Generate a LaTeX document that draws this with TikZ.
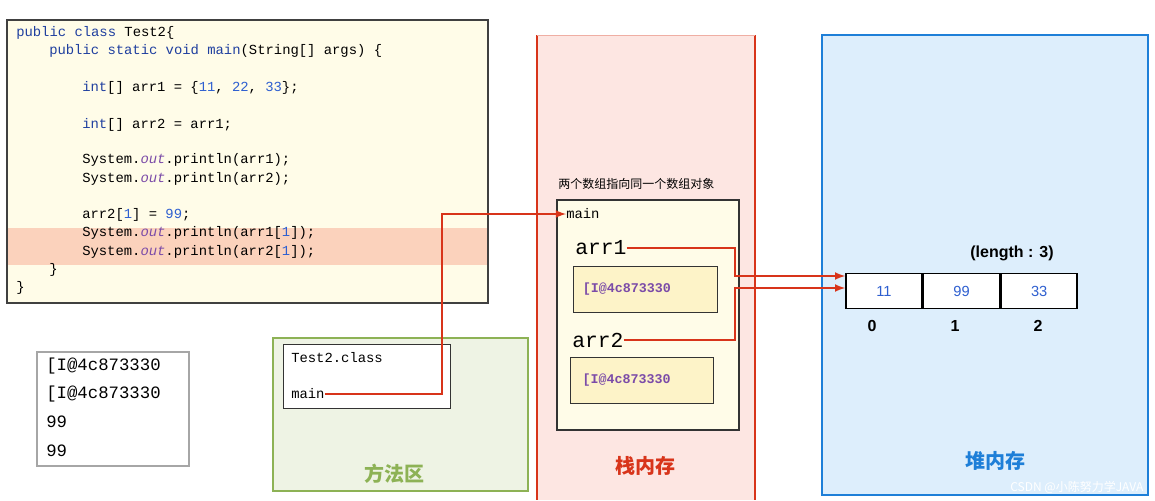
\documentclass[tikz,border=0pt]{standalone}
\usepackage{fontspec}
\setmainfont{Liberation Sans}
\setmonofont{Liberation Mono}
\newfontfamily\cjk{Noto Sans CJK SC}
\usetikzlibrary{positioning}
\definecolor{codebg}{HTML}{FFFCE8}
\definecolor{hilite}{HTML}{FBD2BC}
\definecolor{kw}{HTML}{1F3F9F}
\definecolor{num}{HTML}{2E5FD0}
\definecolor{outc}{HTML}{7B4BA8}
\definecolor{redl}{HTML}{D8341A}
\definecolor{stackbg}{HTML}{FDE6E2}
\definecolor{greenl}{HTML}{8DB255}
\definecolor{methbg}{HTML}{EEF3E4}
\definecolor{bluel}{HTML}{1E7FD8}
\definecolor{heapbg}{HTML}{DDEEFC}
\definecolor{addrbg}{HTML}{FDF3C8}
\tikzset{
  code/.style={anchor=west,inner sep=0pt,font=\ttfamily\fontsize{10.4}{12}\selectfont},
  addr/.style={draw=black!80,fill=addrbg,thick,minimum width=#1,minimum height=34.5,
    align=left,text width=#1-14,inner xsep=7pt,
    font=\ttfamily\bfseries\fontsize{10}{12}\selectfont,text=outc},
  var/.style={anchor=west,inner sep=0pt,font=\ttfamily\fontsize{16}{18}\selectfont},
  cell/.style={draw,very thick,fill=white,minimum width=57,minimum height=26,inner sep=0pt,
    text=num,font=\fontsize{11}{13}\selectfont},
  idx/.style={font=\bfseries\fontsize{12}{14}\selectfont},
  area/.style={font=\cjk\bfseries\fontsize{15}{18}\selectfont},
  ptr/.style={redl,line width=1.6pt,-latex},
  outl/.style={anchor=west,inner sep=0pt,font=\ttfamily\fontsize{13}{15}\selectfont}
}
\begin{document}
\begin{tikzpicture}[x=0.75pt,y=-0.75pt]
\useasboundingbox (0,0) rectangle (1155,500);
% code
\fill[codebg] (7,20) rectangle (488,303);
\fill[hilite] (7,228) rectangle (488,265);
\draw[black!75,thick] (7,20) rectangle (488,303);
\node[code] (l1) at (16,33) {\textcolor{kw}{public class} Test2\{};
\node[code] (l2) at (49,51) {\textcolor{kw}{public static void main}(String[] args) \{};
\node[code] (l3) at (82,88) {\textcolor{kw}{int}[] arr1 = \{\textcolor{num}{11}, \textcolor{num}{22}, \textcolor{num}{33}\};};
\node[code] (l4) at (82,125) {\textcolor{kw}{int}[] arr2 = arr1;};
\node[code] (l5) at (82,160) {System.\textcolor{outc}{\itshape out}.println(arr1);};
\node[code] (l6) at (82,179) {System.\textcolor{outc}{\itshape out}.println(arr2);};
\node[code] (l7) at (82,215) {arr2[\textcolor{num}{1}] = \textcolor{num}{99};};
\node[code] (l8) at (82,233) {System.\textcolor{outc}{\itshape out}.println(arr1[\textcolor{num}{1}]);};
\node[code] (l9) at (82,252) {System.\textcolor{outc}{\itshape out}.println(arr2[\textcolor{num}{1}]);};
\node[code] (l10) at (49,270) {\}};
\node[code] (l11) at (16,288) {\}};
% console output
\draw[black!35,line width=1.5pt,fill=white] (37,352) rectangle (189,466);
\node[outl] (o1) at (46,366) {[I@4c873330};
\node[outl] (o2) at (46,394) {[I@4c873330};
\node[outl] (o3) at (46,422) {99};
\node[outl] (o4) at (46,451) {99};
% method area
\draw[greenl,line width=2.2pt,fill=methbg] (273,338) rectangle (528,491);
\node[area,text=greenl] (meth) at (394,474) {方法区};
\draw[black!80,fill=white] (283,344) rectangle (450,408);
\node[code] (cls) at (291,358) {Test2.class};
\node[code] (mmain) at (291,394) {main};
% stack
\fill[stackbg] (537,35) rectangle (755,500);
\draw[redl,line width=2.2pt] (537,35) -- (537,500) (755,35) -- (755,500);
\draw[redl!40] (537,35) -- (755,35);
\node[area,text=redl] (stk) at (645,466) {栈内存};
\node[anchor=west,inner sep=0pt,font=\cjk\fontsize{9}{11}\selectfont] (note) at (558,184) {两个数组指向同一个数组对象};
\draw[black!80,thick,fill=codebg] (557,200) rectangle (739,430);
\node[code] (smain) at (566,214) {main};
\node[var] (arr1) at (575,248) {arr1};
\node[addr=108pt,anchor=north west] (a1) at (573,266) {[I@4c873330};
\node[var] (arr2) at (572,340) {arr2};
\node[addr=107pt,anchor=north west] (a2) at (570,357) {\hspace{2pt}[I@4c873330};
% heap
\draw[bluel,line width=2.2pt,fill=heapbg] (822,35) rectangle (1148,495);
\node[area,text=bluel] (heap) at (995,461) {堆内存};
\node[font=\bfseries\fontsize{12}{14}\selectfont] (len) at (1012,253) {(length : 3)};
\node[cell] (c0) at (884,291) {11};
\node[cell,right=0pt of c0] (c1) {99};
\node[cell,right=0pt of c1] (c2) {33};
\node[idx] (i0) at (872,326) {0};
\node[idx] (i1) at (955,326) {1};
\node[idx] (i2) at (1038,326) {2};
% pointers
\coordinate (t1) at (c0.west|-0,276);
\coordinate (t2) at (c0.west|-0,288);
\draw[ptr] (mmain.east) -| (442,214) -- (smain.west);
\draw[ptr] (arr1.east) -| (735,276) -- (t1);
\draw[ptr] (arr2.east) -| (735,288) -- (t2);
\node[anchor=east,text=white,font=\cjk\fontsize{9}{11}\selectfont] (wm) at (1148,487) {CSDN @小陈努力学JAVA};
\end{tikzpicture}
\end{document}
